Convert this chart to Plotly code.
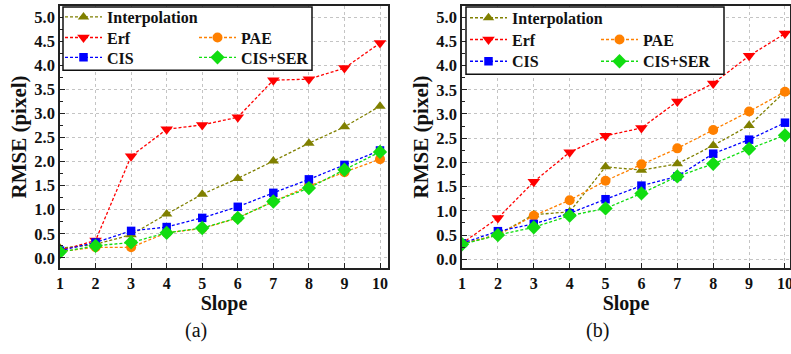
import plotly.graph_objects as go

slopes = [1, 2, 3, 4, 5, 6, 7, 8, 9, 10]
series_names = ["Interpolation", "Erf", "PAE", "CIS", "CIS+SER"]

# (a)
interp_a = [0.20, 0.28, 0.48, 0.91, 1.32, 1.65, 2.01, 2.38, 2.72, 3.15]
erf_a = [0.15, 0.36, 2.11, 2.67, 2.76, 2.92, 3.69, 3.71, 3.94, 4.46]
pae_a = [0.13, 0.22, 0.22, 0.52, 0.61, 0.83, 1.17, 1.49, 1.78, 2.05]
cis_a = [0.15, 0.32, 0.56, 0.64, 0.83, 1.06, 1.35, 1.63, 1.93, 2.23]
cisser_a = [0.12, 0.25, 0.32, 0.52, 0.62, 0.83, 1.17, 1.45, 1.83, 2.20]

# (b)
interp_b = [0.32, 0.51, 0.92, 0.98, 1.91, 1.84, 1.97, 2.35, 2.76, 3.46]
erf_b = [0.33, 0.85, 1.60, 2.21, 2.55, 2.71, 3.26, 3.63, 4.20, 4.66]
pae_b = [0.32, 0.50, 0.90, 1.22, 1.62, 1.96, 2.29, 2.67, 3.05, 3.46]
cis_b = [0.33, 0.58, 0.73, 0.95, 1.24, 1.52, 1.71, 2.18, 2.47, 2.82]
cisser_b = [0.31, 0.50, 0.66, 0.90, 1.05, 1.36, 1.71, 1.97, 2.28, 2.56]

y_ticks = [0.0, 0.5, 1.0, 1.5, 2.0, 2.5, 3.0, 3.5, 4.0, 4.5, 5.0]

W, H = 791, 354
FONT = "Liberation Serif, Times New Roman, DejaVu Serif, serif"

styles = {
    "Interpolation": dict(color="#808000", symbol="triangle-up", size=10),
    "Erf": dict(color="#FF0000", symbol="triangle-down", size=11),
    "PAE": dict(color="#FF8000", symbol="circle", size=10),
    "CIS": dict(color="#0000FF", symbol="square", size=8.5),
    "CIS+SER": dict(color="#11DD11", symbol="diamond", size=11),
}

def px_x(p):
    return p / W

def px_y(p):
    return 1 - p / H

# legend slot (x of legend box left, y of row centre) per panel, in pixels
legend_slots = [
    {"Interpolation": (60, 13), "Erf": (60, 34), "CIS": (60, 54), "PAE": (194, 34), "CIS+SER": (194, 54)},
    {"Interpolation": (465, 14), "Erf": (465, 36), "CIS": (465, 58), "PAE": (596, 36), "CIS+SER": (596, 58)},
]

fig = go.Figure()

panels = [
    ("x", "y", [interp_a, erf_a, pae_a, cis_a, cisser_a]),
    ("x2", "y2", [interp_b, erf_b, pae_b, cis_b, cisser_b]),
]
leg_layout = {}
k = 0
for p, (xa, ya, data) in enumerate(panels):
    for name, vals in zip(series_names, data):
        st = styles[name]
        k += 1
        lname = "legend" if k == 1 else f"legend{k}"
        fig.add_trace(go.Scatter(
            x=slopes, y=vals, name=name, xaxis=xa, yaxis=ya,
            mode="lines+markers",
            line=dict(color=st["color"], width=1.3, dash="3px,2px"),
            marker=dict(color=st["color"], symbol=st["symbol"], size=st["size"], line=dict(width=0)),
            legend=lname,
        ))
        lx, ly = legend_slots[p][name]
        leg_layout[lname] = dict(
            bgcolor="rgba(0,0,0,0)", borderwidth=0,
            font=dict(family=FONT, size=16, color="#111", weight="bold"),
            itemwidth=37, xanchor="left", yanchor="middle",
            x=px_x(lx), y=px_y(ly),
        )

common_x = dict(
    tickmode="array", tickvals=slopes, ticktext=[str(s) for s in slopes],
    ticks="inside", ticklen=5, tickwidth=1.3, tickcolor="#222",
    showline=True, linecolor="#222", linewidth=1.5, mirror=True,
    showgrid=True, gridcolor="#c4c4c4", griddash="dot", gridwidth=1,
    zeroline=False, ticklabeloverflow="allow",
    tickfont=dict(family=FONT, size=16, color="#111", weight="bold"),
    title=dict(text="Slope", font=dict(family=FONT, size=20, color="#111", weight="bold"), standoff=4),
    automargin=False,
)
common_y = dict(
    tickmode="array", tickvals=y_ticks, ticktext=[f"{v:.1f}" for v in y_ticks],
    ticks="inside", ticklen=5, tickwidth=1.3, tickcolor="#222",
    minor=dict(ticks="inside", ticklen=3, tickcolor="#222", dtick=0.25, showgrid=False),
    showline=True, linecolor="#222", linewidth=1.5, mirror=True,
    showgrid=True, gridcolor="#c4c4c4", griddash="dot", gridwidth=1,
    zeroline=False,
    tickfont=dict(family=FONT, size=16.5, color="#111", weight="bold"),
    title=dict(text="RMSE (pixel)", font=dict(family=FONT, size=21, color="#111", weight="bold"), standoff=2),
    automargin=False,
)

y_top, y_bot = 2, 267

fig.update_layout(
    width=W, height=H,
    margin=dict(l=0, r=0, t=0, b=0),
    paper_bgcolor="white", plot_bgcolor="white",
    showlegend=True,
    xaxis=dict(common_x, domain=[px_x(60), px_x(388)], range=[1, 10.225], anchor="y"),
    yaxis=dict(common_y, domain=[px_y(y_bot), px_y(y_top)], range=[-0.21, 5.23], anchor="x"),
    xaxis2=dict(common_x, domain=[px_x(462), px_x(790)], range=[1, 10.14], anchor="y2"),
    yaxis2=dict(common_y, domain=[px_y(y_bot), px_y(y_top)], range=[-0.18, 5.23], anchor="x2"),
    **leg_layout,
)

# legend frames
for x0, x1, y1 in [(63, 312, 67), (466, 724, 71)]:
    fig.add_shape(type="rect", xref="paper", yref="paper",
                  x0=px_x(x0), x1=px_x(x1), y0=px_y(y1), y1=px_y(3),
                  line=dict(color="#111", width=1.5), fillcolor="white", layer="above")

for label, cx in [("(a)", 196), ("(b)", 597)]:
    fig.add_annotation(text=label, x=px_x(cx), y=px_y(330), xref="paper", yref="paper",
                       showarrow=False, xanchor="center", yanchor="middle",
                       font=dict(family=FONT, size=20, color="#111"))

fig.write_html("out.html", config={"displayModeBar": False},
               post_script="document.body.style.margin='0px';")
